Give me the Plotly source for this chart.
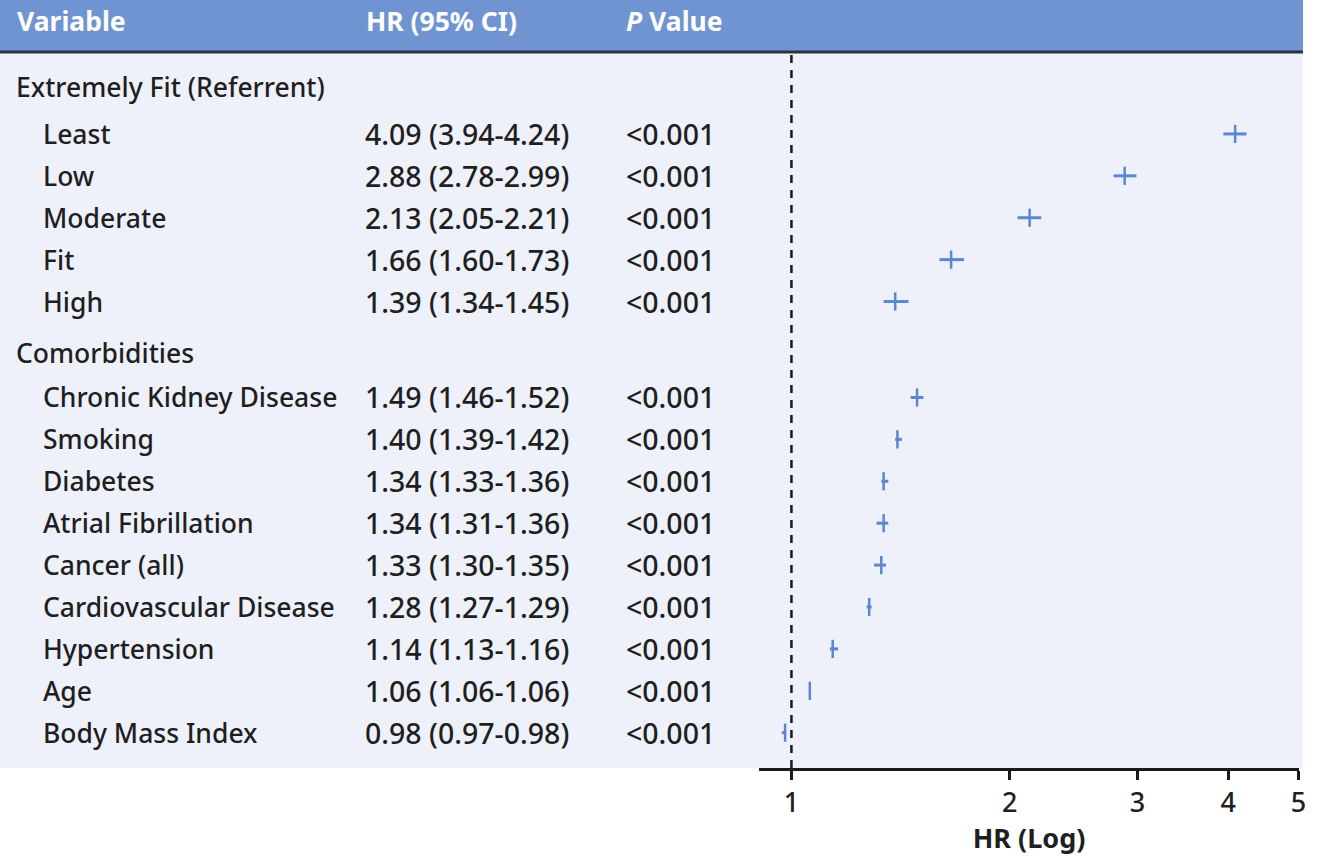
import math
import plotly.graph_objects as go

# Data
group_titles = ["Extremely Fit (Referrent)", "Comorbidities"]

fitness_labels = ["Least", "Low", "Moderate", "Fit", "High"]
fitness_hr = [4.09, 2.88, 2.13, 1.66, 1.39]
fitness_lo = [3.94, 2.78, 2.05, 1.60, 1.34]
fitness_hi = [4.24, 2.99, 2.21, 1.73, 1.45]

comorb_labels = ["Chronic Kidney Disease", "Smoking", "Diabetes", "Atrial Fibrillation",
                 "Cancer (all)", "Cardiovascular Disease", "Hypertension", "Age",
                 "Body Mass Index"]
comorb_hr = [1.49, 1.40, 1.34, 1.34, 1.33, 1.28, 1.14, 1.06, 0.98]
comorb_lo = [1.46, 1.39, 1.33, 1.31, 1.30, 1.27, 1.13, 1.06, 0.97]
comorb_hi = [1.52, 1.42, 1.36, 1.36, 1.35, 1.29, 1.16, 1.06, 0.98]

p_text = "<0.001"
tick_vals = [1, 2, 3, 4, 5]

W, H = 1318, 856
FONT = "Noto Sans"
TXT = "#1f1f1f"
BLUE_HDR = "#7094d1"
PALE = "#eef1fa"
MARK = "#5b86d0"

def px_x(p):
    return p / W

def px_y(p):
    return 1 - p / H

groups = [
    (group_titles[0], fitness_labels, fitness_hr, fitness_lo, fitness_hi),
    (group_titles[1], comorb_labels, comorb_hr, comorb_lo, comorb_hi),
]

# row layout (in row units), small extra gaps around group headings
header_y, item_y, item_lab, hr, lo, hi = [], [], [], [], [], []
y = 0.0
for gi, (title, labels, h, l, u) in enumerate(groups):
    if gi > 0:
        y += 1.22
    header_y.append((title, y))
    y += 1.12 if gi == 0 else 1.07
    for k, lab in enumerate(labels):
        if k > 0:
            y += 1
        item_y.append(y)
        item_lab.append(lab)
        hr.append(h[k]); lo.append(l[k]); hi.append(u[k])

fig = go.Figure()
fig.add_trace(go.Scatter(
    x=hr, y=item_y, mode="markers",
    marker=dict(symbol="line-ns", size=13, color=MARK, line=dict(width=2.5, color=MARK)),
    error_x=dict(type="data", symmetric=False,
                 array=[b - a for a, b in zip(hr, hi)],
                 arrayminus=[a - b for a, b in zip(hr, lo)],
                 width=0, thickness=3, color=MARK),
    showlegend=False, hoverinfo="skip",
))

ann = []
hdr_font = dict(family=FONT, size=26.5, color="white")
for text, xp in [("<b>Variable</b>", 15), ("<b>HR (95% CI)</b>", 366), ("<b><i>P</i> Value</b>", 627)]:
    ann.append(dict(x=px_x(xp), y=px_y(21), xref="paper", yref="paper", text=text,
                    showarrow=False, xanchor="left", yanchor="middle", font=hdr_font))

lab_font = dict(family=FONT, size=26.5, color=TXT, weight=500)
num_font = dict(family=FONT, size=28.5, color=TXT, weight=500)
for title, yy in header_y:
    ann.append(dict(x=px_x(14), y=yy, xref="paper", yref="y", text=title, showarrow=False,
                    xanchor="left", yanchor="middle", font=lab_font))
for lab, yy, a, l, u in zip(item_lab, item_y, hr, lo, hi):
    cells = [(lab, 41, lab_font), (f"{a:.2f} ({l:.2f}-{u:.2f})", 365, num_font), (p_text, 627, num_font)]
    for text, xp, f in cells:
        ann.append(dict(x=px_x(xp), y=yy, xref="paper", yref="y", text=text.replace("<", "&lt;"),
                        showarrow=False, xanchor="left", yanchor="middle", font=f))

shapes = [
    dict(type="rect", xref="paper", yref="paper", x0=0, x1=px_x(1310), y0=px_y(768), y1=px_y(52),
         fillcolor=PALE, line=dict(width=0), layer="below"),
    dict(type="rect", xref="paper", yref="paper", x0=0, x1=px_x(1310), y0=px_y(51), y1=1,
         fillcolor=BLUE_HDR, line=dict(width=0), layer="below"),
    dict(type="line", xref="paper", yref="paper", x0=0, x1=px_x(1310), y0=px_y(52), y1=px_y(52),
         line=dict(color="#2b3242", width=3)),
    dict(type="line", xref="x", yref="paper", x0=1, x1=1, y0=px_y(768), y1=px_y(53),
         line=dict(color="#1a1a1a", width=2.5, dash="8px,7px")),
]

row_px = 41.9
y_top = (53 - 87) / row_px
y_bot = (768 - 87) / row_px

fig.update_layout(
    width=W, height=H,
    margin=dict(l=0, r=0, t=0, b=0),
    paper_bgcolor="white", plot_bgcolor="rgba(0,0,0,0)",
    font=dict(family=FONT, size=26, color=TXT),
    xaxis=dict(type="log", range=[math.log10(0.902), math.log10(5.01)],
               domain=[px_x(763), px_x(1306)],
               tickvals=tick_vals, ticktext=[str(v) for v in tick_vals],
               ticks="outside", ticklen=9, tickwidth=2.5, tickcolor="#1a1a1a",
               showline=True, linewidth=2.5, linecolor="#1a1a1a",
               showgrid=False, zeroline=False,
               tickfont=dict(family=FONT, size=27, color=TXT, weight=500),
               title=dict(text="<b>HR (Log)</b>", font=dict(family=FONT, size=27, color=TXT), standoff=7)),
    yaxis=dict(range=[y_bot, y_top], domain=[px_y(768), px_y(53)],
               visible=False, showgrid=False, zeroline=False),
    annotations=ann, shapes=shapes,
)

fig.write_html("out.html", config={"displayModeBar": False},
               post_script="document.body.style.margin='0';"
                           "document.body.style.overflow='hidden';"
                           "document.documentElement.style.overflow='hidden';")
